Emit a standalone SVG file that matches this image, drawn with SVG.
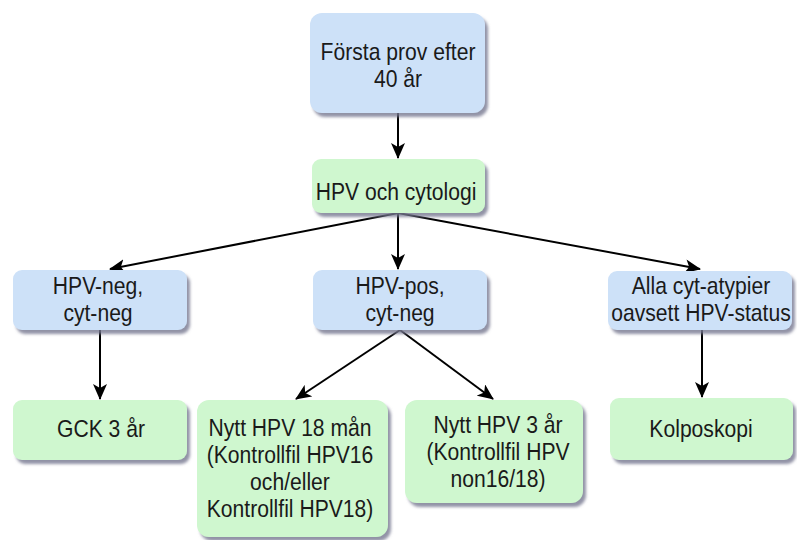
<svg xmlns="http://www.w3.org/2000/svg" width="797" height="540" viewBox="0 0 797 540">
<style>
.blue{fill:#cde1f8}
.green{fill:#cff7cf}
.t{font-family:"Liberation Sans",Arial,sans-serif;font-size:24px;fill:#1a1a1a;text-anchor:middle}
.c{stroke:#000;stroke-width:2;fill:none}
</style>
<defs>
<filter id="sh" x="-10%" y="-10%" width="130%" height="140%">
<feDropShadow dx="3" dy="4" stdDeviation="1.5" flood-color="#767890" flood-opacity="0.8"/>
</filter>
<marker id="ah" viewBox="0 0 16 14" refX="15" refY="7" markerWidth="16" markerHeight="14" markerUnits="userSpaceOnUse" orient="auto">
<path d="M0,0 L16,7 L0,14 L4,7 Z" fill="#000"/>
</marker>
</defs>
<rect width="797" height="540" fill="#fff"/>
<g id="connectors">
<line class="c" x1="398" y1="113" x2="398" y2="158" marker-end="url(#ah)"/>
<line class="c" x1="398" y1="213" x2="110" y2="269" marker-end="url(#ah)"/>
<line class="c" x1="398" y1="213" x2="398" y2="269" marker-end="url(#ah)"/>
<line class="c" x1="398" y1="213" x2="700" y2="269" marker-end="url(#ah)"/>
<line class="c" x1="100" y1="330" x2="100" y2="399" marker-end="url(#ah)"/>
<line class="c" x1="400" y1="330" x2="296" y2="399" marker-end="url(#ah)"/>
<line class="c" x1="400" y1="330" x2="493" y2="399" marker-end="url(#ah)"/>
<line class="c" x1="702" y1="330" x2="702" y2="397" marker-end="url(#ah)"/>
</g>
<g id="n1">
<rect class="blue" x="310" y="13" width="175" height="100" rx="12" filter="url(#sh)"/>
<text class="t" transform="translate(398,60) scale(0.88,1)">Första prov efter</text>
<text class="t" transform="translate(398,87) scale(0.88,1)">40 år</text>
</g>
<g id="n2">
<rect class="green" x="312" y="159" width="173" height="54" rx="9" filter="url(#sh)"/>
<text class="t" transform="translate(396,200) scale(0.88,1)">HPV och cytologi</text>
</g>
<g id="n3">
<rect class="blue" x="13" y="270" width="174" height="60" rx="9" filter="url(#sh)"/>
<text class="t" transform="translate(98,294) scale(0.88,1)">HPV-neg,</text>
<text class="t" transform="translate(98,321) scale(0.88,1)">cyt-neg</text>
</g>
<g id="n4">
<rect class="blue" x="313" y="270" width="174" height="60" rx="9" filter="url(#sh)"/>
<text class="t" transform="translate(400,294) scale(0.88,1)">HPV-pos,</text>
<text class="t" transform="translate(400,321) scale(0.88,1)">cyt-neg</text>
</g>
<g id="n5">
<rect class="blue" x="608" y="271" width="184" height="59" rx="9" filter="url(#sh)"/>
<text class="t" transform="translate(701,294) scale(0.88,1)">Alla cyt-atypier</text>
<text class="t" transform="translate(701,321) scale(0.88,1)">oavsett HPV-status</text>
</g>
<g id="n6">
<rect class="green" x="13" y="400" width="174" height="60" rx="9" filter="url(#sh)"/>
<text class="t" transform="translate(101,437) scale(0.88,1)">GCK 3 år</text>
</g>
<g id="n7">
<rect class="green" x="197" y="400" width="191" height="137" rx="12" filter="url(#sh)"/>
<text class="t" transform="translate(290,436) scale(0.88,1)">Nytt HPV 18 mån</text>
<text class="t" transform="translate(290,463) scale(0.88,1)">(Kontrollfil HPV16</text>
<text class="t" transform="translate(290,490) scale(0.88,1)">och/eller</text>
<text class="t" transform="translate(290,517) scale(0.88,1)">Kontrollfil HPV18)</text>
</g>
<g id="n8">
<rect class="green" x="405" y="400" width="178" height="103" rx="12" filter="url(#sh)"/>
<text class="t" transform="translate(498,433) scale(0.88,1)">Nytt HPV 3 år</text>
<text class="t" transform="translate(498,460) scale(0.88,1)">(Kontrollfil HPV</text>
<text class="t" transform="translate(498,487) scale(0.88,1)">non16/18)</text>
</g>
<g id="n9">
<rect class="green" x="610" y="398" width="183" height="62" rx="9" filter="url(#sh)"/>
<text class="t" transform="translate(701,437) scale(0.88,1)">Kolposkopi</text>
</g>
</svg>
